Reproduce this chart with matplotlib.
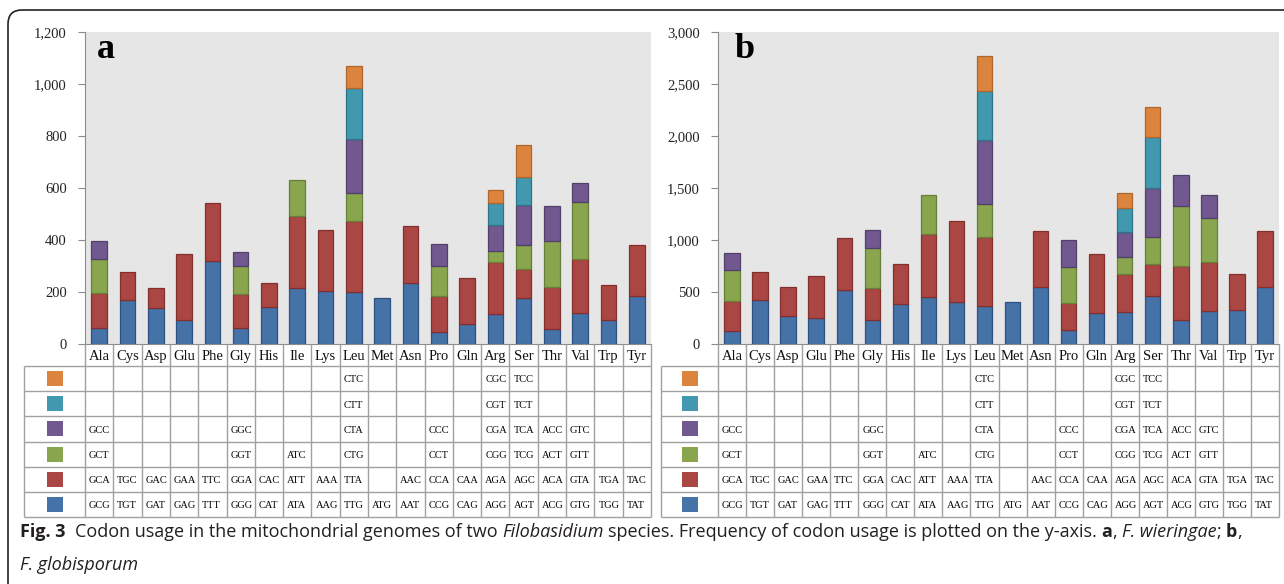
# codon usage chart, two panels with data table under the bars

import matplotlib
matplotlib.use('Agg')
import numpy as np
import matplotlib.pyplot as plt
from matplotlib.patches import Rectangle, FancyBboxPatch
from matplotlib.ticker import MultipleLocator, FuncFormatter
from matplotlib.transforms import IdentityTransform

plt.rcParams['font.family'] = 'Liberation Serif'

amino = ['Ala', 'Cys', 'Asp', 'Glu', 'Phe', 'Gly', 'His', 'Ile', 'Lys', 'Leu',
         'Met', 'Asn', 'Pro', 'Gln', 'Arg', 'Ser', 'Thr', 'Val', 'Trp', 'Tyr']

# codons, bottom of stack first
codon1 = ['GCG', 'TGT', 'GAT', 'GAG', 'TTT', 'GGG', 'CAT', 'ATA', 'AAG', 'TTG',
          'ATG', 'AAT', 'CCG', 'CAG', 'AGG', 'AGT', 'ACG', 'GTG', 'TGG', 'TAT']
codon2 = ['GCA', 'TGC', 'GAC', 'GAA', 'TTC', 'GGA', 'CAC', 'ATT', 'AAA', 'TTA',
          '', 'AAC', 'CCA', 'CAA', 'AGA', 'AGC', 'ACA', 'GTA', 'TGA', 'TAC']
codon3 = ['GCT', '', '', '', '', 'GGT', '', 'ATC', '', 'CTG',
          '', '', 'CCT', '', 'CGG', 'TCG', 'ACT', 'GTT', '', '']
codon4 = ['GCC', '', '', '', '', 'GGC', '', '', '', 'CTA',
          '', '', 'CCC', '', 'CGA', 'TCA', 'ACC', 'GTC', '', '']
codon5 = ['', '', '', '', '', '', '', '', '', 'CTT',
          '', '', '', '', 'CGT', 'TCT', '', '', '', '']
codon6 = ['', '', '', '', '', '', '', '', '', 'CTC',
          '', '', '', '', 'CGC', 'TCC', '', '', '', '']

# F. wieringae
a1 = [61, 170, 137, 94, 318, 61, 144, 214, 204, 200, 176, 236, 45, 78, 116, 176, 59, 121, 91, 185]
a2 = [137, 106, 79, 253, 223, 130, 92, 277, 234, 272, 0, 216, 140, 176, 201, 114, 162, 207, 135, 195]
a3 = [130, 0, 0, 0, 0, 110, 0, 138, 0, 109, 0, 0, 115, 0, 42, 89, 174, 219, 0, 0]
a4 = [70, 0, 0, 0, 0, 51, 0, 0, 0, 207, 0, 0, 84, 0, 99, 157, 135, 72, 0, 0]
a5 = [0, 0, 0, 0, 0, 0, 0, 0, 0, 198, 0, 0, 0, 0, 85, 108, 0, 0, 0, 0]
a6 = [0, 0, 0, 0, 0, 0, 0, 0, 0, 85, 0, 0, 0, 0, 48, 121, 0, 0, 0, 0]

# F. globisporum
b1 = [128, 425, 272, 253, 524, 230, 384, 454, 406, 361, 406, 544, 138, 294, 307, 457, 230, 313, 326, 544]
b2 = [288, 266, 272, 403, 496, 310, 384, 601, 777, 672, 0, 543, 255, 573, 365, 317, 522, 477, 346, 543]
b3 = [291, 0, 0, 0, 0, 381, 0, 375, 0, 310, 0, 0, 346, 0, 163, 256, 572, 419, 0, 0]
b4 = [172, 0, 0, 0, 0, 176, 0, 0, 0, 617, 0, 0, 259, 0, 243, 467, 301, 227, 0, 0]
b5 = [0, 0, 0, 0, 0, 0, 0, 0, 0, 470, 0, 0, 0, 0, 230, 492, 0, 0, 0, 0]
b6 = [0, 0, 0, 0, 0, 0, 0, 0, 0, 336, 0, 0, 0, 0, 144, 288, 0, 0, 0, 0]

colors = ['#4572a7', '#aa4643', '#89a54e', '#71588f', '#4198af', '#db843d']
edges = ['#2f5180', '#832f2d', '#66803a', '#52406b', '#2e7487', '#b0652a']
codons = [codon1, codon2, codon3, codon4, codon5, codon6]

W, H = 1284, 584
fig = plt.figure(figsize=(W / 100, H / 100), dpi=100)


def px_axes(x0, y0, x1, y1):
    return fig.add_axes([x0 / W, 1 - y1 / H, (x1 - x0) / W, (y1 - y0) / H])


def panel(series, ymax, ystep, letter, x0, x1, tleft, y0=32, y1=344, ybot=517):
    n = len(amino)
    x = np.arange(n)
    ax = px_axes(x0, y0, x1, y1)
    ax.set_facecolor('#e6e6e6')
    bottom = np.zeros(n)
    for vals, c, e in zip(series, colors, edges):
        vals = np.array(vals, dtype=float)
        m = vals > 0
        ax.bar(x[m], vals[m], 0.55, bottom=bottom[m], color=c, edgecolor=e, linewidth=0.9)
        bottom += vals
    ax.set_xlim(-0.5, n - 0.5)
    ax.set_ylim(0, ymax)
    ax.set_xticks([])
    for s in ['top', 'right']:
        ax.spines[s].set_visible(False)
    for s in ['left', 'bottom']:
        ax.spines[s].set_color('#8c8c8c')
    ax.yaxis.set_major_locator(MultipleLocator(ystep))
    ax.yaxis.set_major_formatter(FuncFormatter(lambda v, p: '{:,.0f}'.format(v)))
    ax.tick_params(axis='y', length=5, color='#8c8c8c', labelsize=10.5, labelcolor='#222222', pad=8)
    lx = 12 if letter == 'a' else 17
    ax.text(lx / (x1 - x0), (y1 - 58) / (y1 - y0), letter, transform=ax.transAxes,
            fontsize=26, fontweight='bold', va='baseline')

    # data table
    cat = (x1 - x0) / n
    row = (ybot - y1 - 22) / 6
    hdr = 22 / row
    legw = (x0 - tleft) / cat
    tax = px_axes(tleft, y1, x1, ybot)
    tax.set_xlim(-0.5 - legw, n - 0.5)
    tax.set_ylim(6, -hdr)
    tax.axis('off')
    lc = '#a0a0a0'
    tax.vlines(np.arange(n + 1) - 0.5, -hdr, 6, color=lc, lw=1, clip_on=False)
    tax.vlines(-0.5 - legw, 0, 6, color=lc, lw=1, clip_on=False)
    tax.hlines(np.arange(7), -0.5 - legw, n - 0.5, color=lc, lw=1, clip_on=False)
    for i, name in enumerate(amino):
        tax.text(i, -hdr / 2 + 0.05, name, ha='center', va='center', fontsize=10.5, color='#111111')
    for r in range(6):
        k = 5 - r
        sw, sh = 16 / cat, 15 / row
        tax.add_patch(Rectangle((-0.5 - legw / 2 - sw / 2, r + 0.5 - sh / 2), sw, sh,
                                facecolor=colors[k], edgecolor='none'))
        for i, cd in enumerate(codons[k]):
            if cd:
                tax.text(i - 0.5 + 4 / cat, r + 0.55, cd, ha='left', va='center',
                         fontsize=7.5, color='#000000')
    return ax


panel([a1, a2, a3, a4, a5, a6], 1200, 200, 'a', 85, 651, 24)
panel([b1, b2, b3, b4, b5, b6], 3000, 500, 'b', 718, 1279, 661)

# caption, written piece by piece so bold / italic runs sit inline
renderer = fig.canvas.get_renderer()
cap_font = dict(family='Open Sans', fontsize=13, color='#231f20')
STY = {'r': {}, 'b': {'fontweight': 'bold'}, 'i': {'style': 'italic'}}


def text_w(s, kw):
    t = fig.text(0, 0, s, **kw)
    w = t.get_window_extent(renderer).width
    t.remove()
    return w


def advance(s, kw):
    return text_w('|' + s + '|', kw) - text_w('||', kw)


def caption_line(pieces, x, y):
    for s, st in pieces:
        kw = dict(cap_font, **STY[st])
        lead = len(s) - len(s.lstrip(' '))
        body = s.strip(' ')
        if body:
            fig.text((x + advance(' ' * lead, kw) if lead else x) / W, 1 - y / H, body,
                     va='baseline', **kw)
        x += advance(s, kw)


caption_line([('Fig. 3', 'b'), ('  Codon usage in the mitochondrial genomes of two ', 'r'),
              ('Filobasidium', 'i'),
              (' species. Frequency of codon usage is plotted on the y-axis. ', 'r'),
              ('a', 'b'), (', ', 'r'), ('F. wieringae', 'i'), ('; ', 'r'), ('b', 'b'), (',', 'r')],
             20, 537)
caption_line([('F. globisporum', 'i')], 20, 570)

border = FancyBboxPatch((8, -30), 1300, H - 10 + 30, boxstyle='round,pad=0,rounding_size=14',
                        transform=IdentityTransform(), facecolor='none', edgecolor='#222222', lw=1.2)
fig.add_artist(border)

fig.savefig('out.png', dpi=100)
